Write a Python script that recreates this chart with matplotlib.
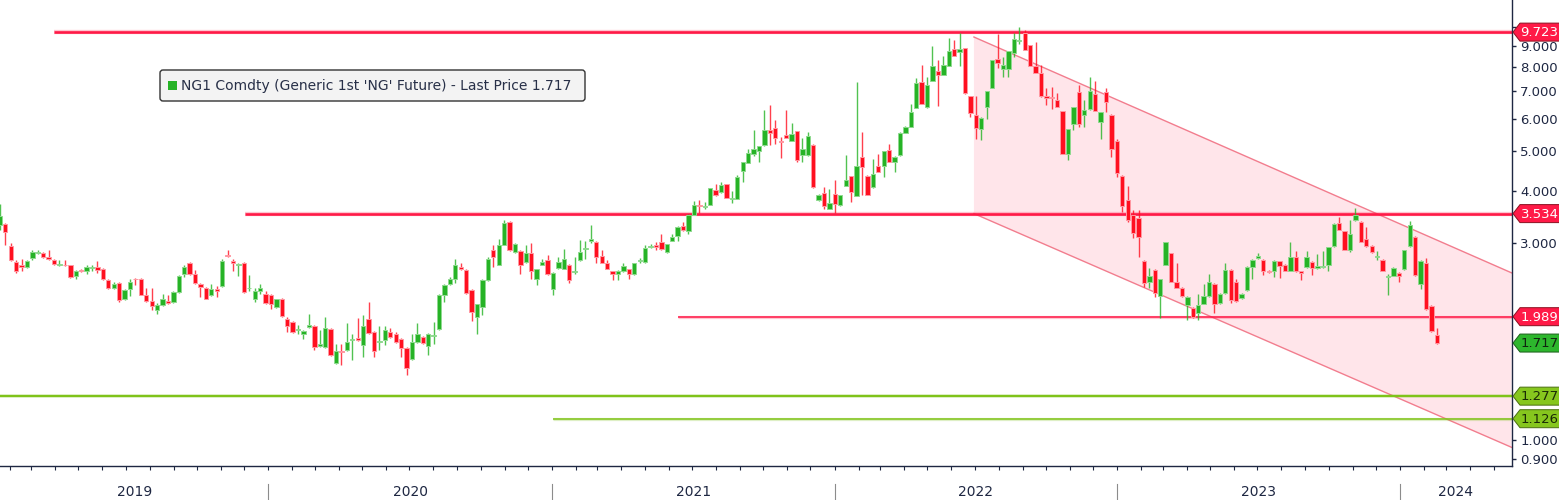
import numpy as np
import pandas as pd
import matplotlib
matplotlib.use("Agg")
import matplotlib.pyplot as plt
import matplotlib.dates as mdates
from matplotlib.patches import Polygon, FancyBboxPatch, Rectangle
from matplotlib.lines import Line2D
from matplotlib.transforms import IdentityTransform
from matplotlib.ticker import FixedLocator, FuncFormatter, NullLocator, NullFormatter

# ---------------- data (weekly OHLC, NG1 Comdty) ----------------
last_bar = "2024-02-16"

opens = [2.97, 3.32, 3.34, 2.95, 2.70, 2.66, 2.62, 2.76, 2.84, 2.83,
         2.78, 2.73, 2.66, 2.66, 2.65, 2.49, 2.58, 2.57, 2.61, 2.62,
         2.59, 2.44, 2.33, 2.40, 2.19, 2.32, 2.46, 2.46, 2.25, 2.17,
         2.07, 2.12, 2.17, 2.16, 2.28, 2.52, 2.69, 2.52, 2.39, 2.34,
         2.24, 2.32, 2.36, 2.80, 2.72, 2.65, 2.69, 2.33, 2.20, 2.30,
         2.26, 2.25, 2.10, 2.20, 1.96, 1.93, 1.85, 1.81, 1.88, 1.89,
         1.69, 1.68, 1.86, 1.54, 1.64, 1.65, 1.75, 1.77, 1.70, 1.96,
         1.83, 1.73, 1.75, 1.83, 1.81, 1.76, 1.67, 1.57, 1.73, 1.78,
         1.69, 1.79, 1.86, 2.25, 2.38, 2.45, 2.62, 2.58, 2.31, 1.99,
         2.10, 2.44, 2.88, 2.66, 2.97, 3.38, 2.86, 2.87, 2.70, 2.83,
         2.45, 2.66, 2.73, 2.32, 2.61, 2.60, 2.66, 2.55, 2.73, 2.90,
         3.04, 3.02, 2.79, 2.69, 2.56, 2.52, 2.56, 2.59, 2.52, 2.71,
         2.70, 2.93, 2.97, 3.01, 2.85, 3.04, 3.12, 3.30, 3.20, 3.51,
         3.71, 3.67, 3.71, 4.03, 3.98, 4.16, 3.84, 3.84, 4.47, 4.69,
         4.94, 5.00, 5.17, 5.62, 5.70, 5.30, 5.47, 5.30, 5.59, 4.89,
         4.89, 5.19, 3.82, 3.97, 3.63, 3.95, 3.70, 4.13, 4.35, 3.90,
         4.84, 4.37, 4.09, 4.60, 4.60, 5.03, 4.70, 4.89, 5.54, 5.73,
         6.38, 7.37, 6.39, 7.40, 7.84, 7.65, 8.06, 8.85, 8.72, 8.90,
         6.80, 6.11, 5.68, 6.41, 7.13, 8.37, 7.92, 7.92, 8.64, 9.25,
         9.70, 9.05, 8.05, 7.76, 6.80, 6.78, 6.65, 6.27, 4.94, 5.81,
         6.97, 6.11, 6.32, 6.88, 5.89, 6.95, 6.14, 5.30, 4.37, 3.81,
         3.51, 3.45, 2.72, 2.42, 2.58, 2.23, 2.66, 2.83, 2.42, 2.34,
         2.12, 2.09, 2.03, 2.14, 2.23, 2.39, 2.15, 2.27, 2.58, 2.41,
         2.21, 2.31, 2.63, 2.76, 2.73, 2.57, 2.56, 2.71, 2.66, 2.57,
         2.78, 2.56, 2.62, 2.70, 2.61, 2.62, 2.66, 2.95, 3.35, 3.20,
         2.88, 3.41, 3.38, 3.06, 2.95, 2.78, 2.73, 2.48, 2.50, 2.54,
         2.59, 2.95, 3.11, 2.39, 2.68, 2.11, 1.80]

highs = [3.12, 3.72, 3.36, 3.00, 2.73, 2.74, 2.73, 2.89, 2.89, 2.85,
         2.89, 2.75, 2.73, 2.73, 2.66, 2.58, 2.60, 2.65, 2.66, 2.72,
         2.61, 2.45, 2.42, 2.41, 2.32, 2.45, 2.47, 2.47, 2.33, 2.34,
         2.15, 2.26, 2.25, 2.30, 2.51, 2.65, 2.70, 2.58, 2.40, 2.35,
         2.38, 2.36, 2.74, 2.89, 2.74, 2.68, 2.70, 2.51, 2.34, 2.39,
         2.29, 2.26, 2.20, 2.21, 1.98, 1.94, 1.90, 1.85, 2.02, 1.90,
         1.85, 1.99, 1.87, 1.71, 1.71, 1.92, 1.81, 1.97, 2.01, 2.16,
         1.84, 1.89, 1.89, 1.87, 1.83, 1.77, 1.68, 1.81, 1.92, 1.79,
         1.82, 1.93, 2.26, 2.38, 2.48, 2.74, 2.68, 2.59, 2.32, 2.14,
         2.46, 2.77, 2.96, 3.06, 3.41, 3.39, 3.00, 2.88, 2.96, 3.00,
         2.60, 2.74, 2.81, 2.55, 2.77, 2.90, 2.67, 2.77, 3.05, 3.04,
         3.32, 3.03, 2.88, 2.73, 2.57, 2.58, 2.68, 2.60, 2.69, 2.76,
         2.97, 2.98, 3.01, 3.16, 2.99, 3.15, 3.29, 3.37, 3.52, 3.80,
         3.82, 3.78, 4.08, 4.18, 4.22, 4.17, 4.00, 4.39, 4.72, 5.06,
         5.64, 5.15, 6.29, 6.47, 5.97, 5.42, 6.29, 5.86, 5.60, 5.40,
         5.57, 5.20, 3.95, 4.09, 4.05, 4.27, 3.93, 4.89, 4.36, 7.37,
         5.57, 4.38, 4.78, 4.92, 5.02, 5.20, 4.86, 5.56, 5.77, 6.53,
         7.51, 8.09, 7.58, 9.00, 8.32, 8.51, 9.39, 9.31, 9.70, 8.91,
         6.81, 6.80, 6.04, 7.01, 8.33, 9.64, 8.48, 8.77, 9.66, 10.03,
         9.85, 9.06, 9.20, 8.09, 7.10, 7.17, 6.91, 6.28, 5.68, 6.40,
         7.23, 6.65, 7.58, 7.39, 6.24, 7.10, 6.15, 5.37, 4.38, 4.12,
         3.61, 3.61, 2.73, 2.61, 2.59, 2.46, 3.02, 2.84, 2.68, 2.35,
         2.23, 2.10, 2.26, 2.38, 2.53, 2.40, 2.27, 2.68, 2.59, 2.45,
         2.27, 2.64, 2.74, 2.83, 2.74, 2.58, 2.73, 2.72, 2.67, 3.02,
         2.87, 2.57, 2.87, 2.71, 2.82, 2.87, 2.94, 3.35, 3.47, 3.21,
         3.41, 3.64, 3.39, 3.28, 2.96, 2.87, 2.74, 2.53, 2.62, 2.55,
         2.89, 3.40, 3.12, 2.73, 2.76, 2.12, 1.87]

lows = [2.95, 3.23, 2.97, 2.72, 2.54, 2.56, 2.61, 2.73, 2.82, 2.76,
        2.73, 2.66, 2.64, 2.64, 2.47, 2.45, 2.55, 2.52, 2.57, 2.54,
        2.44, 2.32, 2.32, 2.16, 2.18, 2.23, 2.37, 2.24, 2.16, 2.07,
        2.02, 2.11, 2.13, 2.15, 2.27, 2.48, 2.51, 2.39, 2.22, 2.19,
        2.23, 2.22, 2.35, 2.78, 2.57, 2.50, 2.27, 2.29, 2.16, 2.26,
        2.14, 2.08, 2.09, 1.99, 1.83, 1.82, 1.81, 1.76, 1.87, 1.65,
        1.68, 1.67, 1.60, 1.53, 1.52, 1.64, 1.56, 1.74, 1.59, 1.81,
        1.59, 1.65, 1.70, 1.77, 1.72, 1.59, 1.44, 1.56, 1.72, 1.71,
        1.61, 1.71, 1.85, 2.16, 2.37, 2.40, 2.58, 2.26, 1.94, 1.81,
        2.01, 2.43, 2.62, 2.65, 2.96, 2.87, 2.84, 2.53, 2.69, 2.46,
        2.37, 2.65, 2.51, 2.25, 2.60, 2.59, 2.40, 2.52, 2.72, 2.74,
        3.00, 2.69, 2.68, 2.59, 2.44, 2.44, 2.55, 2.46, 2.51, 2.68,
        2.69, 2.92, 2.89, 2.89, 2.84, 3.03, 3.04, 3.21, 3.15, 3.50,
        3.55, 3.62, 3.70, 3.90, 3.97, 3.85, 3.75, 3.83, 4.22, 4.68,
        4.86, 4.71, 5.16, 5.17, 5.22, 4.83, 5.38, 5.29, 4.71, 4.71,
        4.88, 4.07, 3.80, 3.63, 3.62, 3.54, 3.69, 4.12, 3.78, 3.89,
        3.92, 3.91, 4.08, 4.45, 4.33, 4.70, 4.46, 4.88, 5.53, 5.72,
        6.37, 6.52, 6.38, 7.39, 6.43, 7.64, 8.05, 8.52, 8.06, 6.90,
        6.05, 5.37, 5.32, 5.99, 7.12, 7.98, 7.58, 7.58, 8.44, 9.12,
        8.79, 8.04, 7.75, 6.79, 6.47, 6.32, 6.39, 4.93, 4.76, 5.62,
        5.73, 5.73, 6.31, 6.26, 5.37, 6.23, 4.85, 4.33, 3.57, 3.38,
        3.08, 2.78, 2.35, 2.33, 2.22, 1.97, 2.65, 2.41, 2.33, 2.22,
        1.95, 1.97, 1.95, 2.13, 2.22, 2.03, 2.14, 2.26, 2.15, 2.16,
        2.20, 2.30, 2.45, 2.75, 2.51, 2.54, 2.48, 2.47, 2.56, 2.56,
        2.55, 2.44, 2.61, 2.51, 2.60, 2.61, 2.56, 2.94, 3.22, 2.88,
        2.85, 3.40, 3.01, 2.94, 2.84, 2.73, 2.56, 2.24, 2.49, 2.42,
        2.58, 2.94, 2.50, 2.32, 2.07, 1.83, 1.71]

closes = [3.10, 3.49, 3.19, 2.73, 2.57, 2.63, 2.71, 2.86, 2.86, 2.78,
          2.75, 2.67, 2.67, 2.65, 2.48, 2.57, 2.56, 2.62, 2.62, 2.58,
          2.45, 2.33, 2.38, 2.18, 2.31, 2.41, 2.45, 2.25, 2.17, 2.11,
          2.12, 2.19, 2.15, 2.28, 2.50, 2.62, 2.52, 2.40, 2.35, 2.20,
          2.32, 2.30, 2.72, 2.79, 2.69, 2.67, 2.28, 2.34, 2.30, 2.33,
          2.15, 2.13, 2.19, 2.00, 1.89, 1.83, 1.86, 1.84, 1.90, 1.68,
          1.71, 1.87, 1.61, 1.64, 1.63, 1.73, 1.76, 1.75, 1.89, 1.82,
          1.64, 1.74, 1.85, 1.78, 1.73, 1.67, 1.49, 1.73, 1.81, 1.72,
          1.81, 1.80, 2.25, 2.37, 2.45, 2.65, 2.59, 2.27, 2.04, 2.13,
          2.44, 2.74, 2.77, 2.97, 3.35, 2.88, 2.99, 2.65, 2.84, 2.57,
          2.59, 2.70, 2.52, 2.54, 2.70, 2.74, 2.44, 2.56, 2.86, 2.91,
          3.06, 2.77, 2.69, 2.60, 2.53, 2.56, 2.64, 2.52, 2.68, 2.72,
          2.92, 2.95, 2.94, 2.90, 2.98, 3.10, 3.28, 3.22, 3.51, 3.71,
          3.68, 3.68, 4.07, 3.91, 4.14, 3.86, 3.85, 4.33, 4.71, 4.96,
          5.08, 5.14, 5.62, 5.54, 5.39, 5.28, 5.40, 5.50, 4.76, 5.06,
          5.44, 4.10, 3.92, 3.68, 3.74, 3.73, 3.92, 4.26, 3.98, 4.62,
          4.59, 3.92, 4.41, 4.46, 5.01, 4.71, 4.85, 5.55, 5.73, 6.23,
          7.33, 6.53, 7.23, 8.04, 7.65, 8.09, 8.75, 8.53, 8.83, 6.93,
          6.20, 5.71, 6.03, 7.00, 8.32, 8.17, 8.09, 8.76, 9.35, 9.28,
          8.80, 8.05, 7.76, 6.80, 6.74, 6.72, 6.40, 4.94, 5.67, 6.39,
          5.84, 6.29, 7.00, 6.27, 6.23, 6.60, 5.08, 4.44, 3.69, 3.41,
          3.17, 3.10, 2.40, 2.50, 2.27, 2.45, 3.01, 2.42, 2.34, 2.23,
          2.22, 1.99, 2.12, 2.23, 2.41, 2.14, 2.26, 2.58, 2.18, 2.17,
          2.26, 2.63, 2.73, 2.79, 2.57, 2.55, 2.72, 2.64, 2.57, 2.77,
          2.56, 2.54, 2.77, 2.61, 2.64, 2.64, 2.93, 3.34, 3.23, 2.89,
          3.16, 3.51, 3.02, 2.95, 2.85, 2.79, 2.57, 2.49, 2.61, 2.50,
          2.88, 3.31, 2.51, 2.72, 2.08, 1.84, 1.717]

# horizontal levels
level_values = [9.723, 3.534, 1.989, 1.277, 1.126]
level_starts = ["2019-03-31", "2019-12-02", "2021-06-13", "2018-12-01", "2021-01-03"]
level_kinds = ["red", "red", "red_thin", "green", "green_thin"]

# descending channel
channel_dates = ["2022-06-30", "2024-05-24"]
channel_upper = [9.46, 2.54]
channel_lower = [3.534, 0.96]

y_ticks = [0.9, 1, 2, 3, 4, 5, 6, 7, 8, 9, 10]
hidden_tick_labels = [2, 10]   # covered by the 1.989 / 9.723 tags
years = [2019, 2020, 2021, 2022, 2023, 2024]
legend_label = "NG1 Comdty (Generic 1st 'NG' Future) - Last Price 1.717"
last_price = 1.717

# ---------------- styling ----------------
GREEN = "#26B326"
GREEN_EDGE = "#8FDA8F"
RED = "#FF1020"
RED_EDGE = "#FF98A2"
LINE_RED = "#FF1A47"
LINE_GREEN = "#7FC31A"
TAG_GREEN = "#2DB62D"
TAG_LIME = "#86C61E"
AXIS = "#1E2742"
TXT = "#1E2742"
FONT = "DejaVu Sans"

W, H = 1559, 500
fig = plt.figure(figsize=(W / 100, H / 100), dpi=100)
fig.patch.set_facecolor("white")
ax = fig.add_axes([0, 34 / H, 1512 / W, 466 / H])
ax.set_facecolor("white")

n = len(closes)
dates = pd.date_range(end=last_bar, periods=n, freq="7D")
xd = mdates.date2num(dates.to_pydatetime()) + 1.5
o = np.array(opens); h = np.array(highs); l = np.array(lows); c = np.array(closes)
up = c >= o

x_left = mdates.date2num(pd.Timestamp("2020-01-01")) - 346.3
x_right = mdates.date2num(pd.Timestamp("2024-01-01")) + 144.6
ax.set_xlim(x_left, x_right)
ax.set_yscale("log")
ax.set_ylim(0.865, 11.63)

# channel
cd = mdates.date2num(pd.to_datetime(channel_dates).to_pydatetime())
poly = Polygon([(cd[0], channel_upper[0]), (cd[1], channel_upper[1]),
                (cd[1], channel_lower[1]), (cd[0], channel_lower[0])],
               closed=True, facecolor="#FFE5EA", edgecolor="none", zorder=1)
ax.add_patch(poly)
ax.plot(cd, channel_upper, color="#F27D8E", lw=1.0, zorder=1.5)
ax.plot(cd, channel_lower, color="#F27D8E", lw=1.0, zorder=1.5)

# horizontal level lines
for v, s, k in zip(level_values, level_starts, level_kinds):
    xs = mdates.date2num(pd.Timestamp(s))
    col = LINE_RED if k.startswith("red") else LINE_GREEN
    lw = 1.9 if k == "red" else (1.5 if k == "green" else 1.1)
    ax.plot([xs, x_right + 30], [v, v], color=col, lw=lw + 1.2, alpha=0.25,
            solid_capstyle="butt", zorder=2)
    ax.plot([xs, x_right + 30], [v, v], color=col, lw=lw,
            solid_capstyle="butt", zorder=2.1)

# candles
cols = np.where(up, GREEN, RED)
edges = np.where(up, GREEN_EDGE, RED_EDGE)
ax.vlines(xd, l, h, colors=cols, lw=1.0, alpha=0.8, zorder=3)
bottoms = np.minimum(o, c)
heights = np.maximum(np.abs(c - o), 0.004 * bottoms)
ax.bar(xd, heights, bottom=bottoms, width=5.6, color=cols, edgecolor=edges,
       linewidth=0.7, zorder=4, align="center")

# axes styling
for sp in ("left", "top"):
    ax.spines[sp].set_visible(False)
for sp in ("right", "bottom"):
    ax.spines[sp].set_color(AXIS)
    ax.spines[sp].set_linewidth(1.0)

ax.yaxis.tick_right()
ax.yaxis.set_major_locator(FixedLocator(y_ticks))
ax.yaxis.set_major_formatter(FuncFormatter(
    lambda v, p: "" if any(abs(v - hv) < 1e-9 for hv in hidden_tick_labels) else f"{v:.3f}"))
ax.yaxis.set_minor_locator(NullLocator())
ax.tick_params(axis="y", which="major", direction="out", length=3, width=1,
               color=AXIS, labelcolor=TXT, labelsize=9.5, pad=3)
for t in ax.get_yticklabels():
    t.set_fontfamily(FONT)

ax.xaxis.set_major_locator(mdates.MonthLocator())
ax.xaxis.set_major_formatter(NullFormatter())
ax.xaxis.set_minor_locator(NullLocator())
ax.tick_params(axis="x", which="major", direction="out", length=3, width=0.8,
               color=AXIS)

# year separators and labels (pixel space)
ident = IdentityTransform()
def xpix(d):
    return ax.transData.transform((mdates.date2num(pd.Timestamp(d)), 1.0))[0]

for yr in years:
    xs = xpix(f"{yr}-01-01")
    xe = xpix(f"{yr + 1}-01-01")
    if yr > years[0]:
        fig.add_artist(Line2D([xs, xs], [0, 16], color="#8C8C8C", lw=0.8,
                              transform=ident))
    a = max(xs, 0)
    b = min(xe, 1512)
    fig.text((a + b) / 2, 8, str(yr), transform=ident, ha="center",
             va="center", fontsize=10, color=TXT, family=FONT)

# right-side tags
def tag(value, face, textcol, edge):
    yp = ax.transData.transform((x_right, value))[1]
    x0 = 1513
    hh = 9
    pts = [(x0, yp), (x0 + 7, yp + hh), (W + 2, yp + hh), (W + 2, yp - hh),
           (x0 + 7, yp - hh)]
    fig.add_artist(Polygon(pts, closed=True, facecolor=face, edgecolor=edge,
                           linewidth=0.7, transform=ident, zorder=10))
    fig.text(1520.5, yp - 0.5, f"{value:.3f}", transform=ident, ha="left",
             va="center", fontsize=9.5, color=textcol, family=FONT, zorder=11)

tag(9.723, LINE_RED, "white", "#8A1020")
tag(3.534, LINE_RED, "white", "#8A1020")
tag(1.989, LINE_RED, "white", "#8A1020")
tag(last_price, TAG_GREEN, "#10240F", "#1B5E1B")
tag(1.277, TAG_LIME, "#1A2A05", "#4A6E10")
tag(1.126, TAG_LIME, "#1A2A05", "#4A6E10")

# legend box (pixel space)
box = FancyBboxPatch((160, H - 101), 425, 31,
                     boxstyle="round,pad=0,rounding_size=3",
                     facecolor="#F3F3F3", edgecolor="#333333", linewidth=1.0,
                     transform=ident, zorder=12)
fig.add_artist(box)
fig.add_artist(Rectangle((168, H - 90), 9, 9, facecolor=GREEN, edgecolor="none",
                         transform=ident, zorder=13))
fig.text(181, H - 86, legend_label, transform=ident, ha="left", va="center",
         fontsize=10, color="#283048", family=FONT, zorder=13)

fig.savefig("out.png", dpi=100, facecolor="white")
